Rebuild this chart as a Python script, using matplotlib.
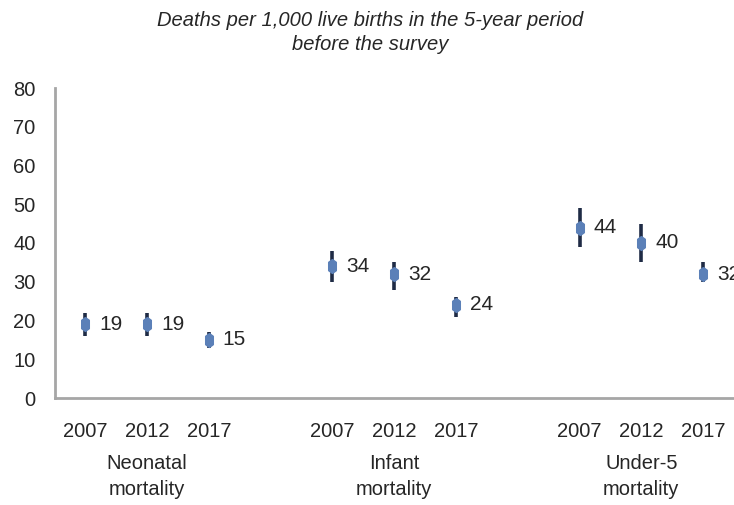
import numpy as np
import matplotlib.pyplot as plt
import matplotlib.transforms as mtransforms

years = ['2007', '2012', '2017']
groups = ['Neonatal\nmortality', 'Infant\nmortality', 'Under-5\nmortality']

neonatal = [19, 19, 15]
neonatal_lo = [16, 16, 13]
neonatal_hi = [22, 22, 17]

infant = [34, 32, 24]
infant_lo = [30, 28, 21]
infant_hi = [38, 35, 26]

under5 = [44, 40, 32]
under5_lo = [39, 35, 30]
under5_hi = [49, 45, 35]

plt.rcParams['font.family'] = ['Liberation Sans', 'DejaVu Sans']

fig = plt.figure(figsize=(7.34, 5.05), dpi=100)
ax = fig.add_axes([55/734, 1 - 398/505, 1 - 55/734, 310/505])

vals = neonatal + infant + under5
lo = neonatal_lo + infant_lo + under5_lo
hi = neonatal_hi + infant_hi + under5_hi
xpos = [0, 1, 2, 4, 5, 6, 8, 9, 10]

vals = np.array(vals)
err = np.array([vals - np.array(lo), np.array(hi) - vals])

# elongated point marker like the original
mk = [(0, 1), (0.55, 0.6), (0.55, -0.6), (0, -1), (-0.55, -0.6), (-0.55, 0.6), (0, 1)]

ax.errorbar(xpos, vals, yerr=err, fmt='none', ecolor='#1f2b45', elinewidth=2.6,
            capsize=0, zorder=2)
ax.plot(xpos, vals, linestyle='none', marker=mk, markersize=10,
        markerfacecolor='#5b80b8', markeredgecolor='#5b80b8', zorder=3)

for x, v in zip(xpos, vals):
    ax.annotate(str(v), (x, v), xytext=(10, 0), textcoords='offset points',
                ha='left', va='center', fontsize=15, color='#262626',
                annotation_clip=False)

ax.set_xlim(-0.49, 10.5)
ax.set_ylim(0, 80)
ax.set_yticks(range(0, 81, 10))
ax.set_xticks(xpos)
ax.set_xticklabels(years * 3)
ax.tick_params(axis='both', length=0, labelsize=14.5, labelcolor='#262626')
ax.tick_params(axis='x', pad=17)
ax.tick_params(axis='y', pad=14)

for s in ['top', 'right']:
    ax.spines[s].set_visible(False)
for s in ['left', 'bottom']:
    ax.spines[s].set_color('#a6a6a6')
    ax.spines[s].set_linewidth(2)

trans = mtransforms.blended_transform_factory(ax.transData, fig.transFigure)
for i, g in enumerate(groups):
    ax.text(xpos[i * 3 + 1], 1 - 476.5/505, g, transform=trans,
            ha='center', va='center', fontsize=14.5, color='#262626', linespacing=1.45)

fig.text(370/734, 1 - 32.5/505,
         'Deaths per 1,000 live births in the 5-year period\nbefore the survey',
         ha='center', va='center', fontsize=14.5, style='italic', color='#262626',
         linespacing=1.35)

fig.savefig('out.png', dpi=100)
